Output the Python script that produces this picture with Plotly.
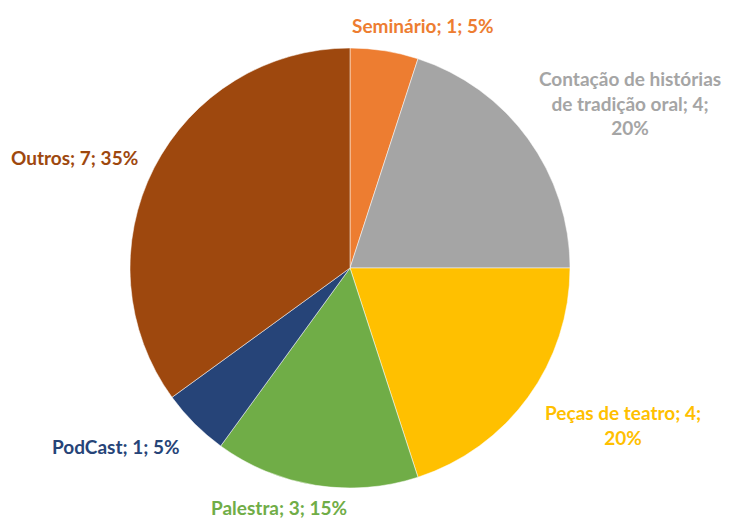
import plotly.graph_objects as go

categorias = ["Seminário", "Contação de histórias de tradição oral", "Peças de teatro",
              "Palestra", "PodCast", "Outros"]
valores = [1, 4, 4, 3, 1, 7]
cores = ["#ED7D31", "#A5A5A5", "#FFC000", "#70AD47", "#264478", "#9E480E"]

# rótulos externos, como no Excel
rotulos = [
    "Seminário; 1; 5%",
    "Contação de histórias<br>de tradição oral; 4;<br>20%",
    "Peças de teatro; 4;<br>20%",
    "Palestra; 3; 15%",
    "PodCast; 1; 5%",
    "Outros; 7; 35%",
]
posicoes = [(423, 25), (630, 103), (623, 425), (279, 507), (116, 446), (74, 157)]

W, H = 732, 520

fig = go.Figure(go.Pie(
    labels=categorias,
    values=valores,
    sort=False,
    direction="clockwise",
    rotation=0,
    marker=dict(colors=cores, line=dict(color="white", width=0.5)),
    textinfo="none",
    hoverinfo="label+value+percent",
    domain=dict(x=[130 / W, 570 / W], y=[1 - 488 / H, 1 - 48 / H]),
    showlegend=False,
))

for txt, (px_, py_), cor in zip(rotulos, posicoes, cores):
    fig.add_annotation(
        x=px_ / W, y=1 - py_ / H, xref="paper", yref="paper",
        text=f"<b>{txt}</b>", showarrow=False,
        xanchor="center", yanchor="middle", align="center",
        font=dict(family="Lato", size=19, color=cor),
    )

fig.update_layout(
    width=W, height=H,
    margin=dict(l=0, r=0, t=0, b=0),
    paper_bgcolor="white",
    plot_bgcolor="white",
)

fig.write_html("out.html", config={"displayModeBar": False},
               post_script="document.body.style.margin='0';")
